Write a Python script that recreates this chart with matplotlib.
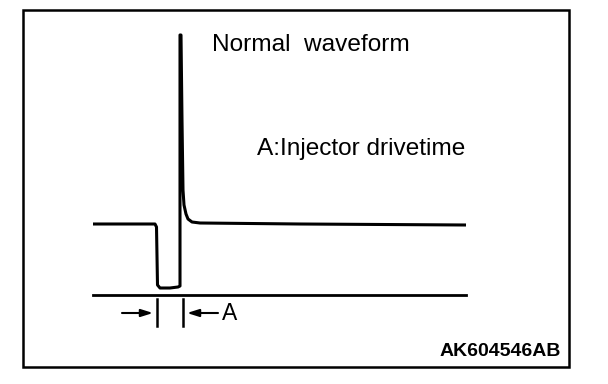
import matplotlib
matplotlib.use("Agg")
import matplotlib.pyplot as plt
from matplotlib.patches import Rectangle

# Waveform (diagram units = pixels, y downward)
wave_t = [93, 155, 156.5, 157.5, 160, 170, 178, 180, 180, 181, 182, 183, 184, 186, 188, 192, 200, 300, 466]
wave_v = [224, 224, 227, 285, 288, 288, 287, 286, 35, 35, 120, 190, 205, 214, 219, 222, 223, 224, 225]

base_t = [93, 466]
base_v = [295, 295]

title_text = "Normal  waveform"
label_text = "A:Injector drivetime"
marker_text = "A"
code_text = "AK604546AB"

fig = plt.figure(figsize=(6.08, 3.84), dpi=100)
ax = fig.add_axes([0, 0, 1, 1])
ax.set_xlim(0, 608)
ax.set_ylim(384, 0)
ax.axis("off")

fam = ["Liberation Sans", "DejaVu Sans"]

# frame
ax.add_patch(Rectangle((23, 10), 546, 357, fill=False, lw=1.8, ec="black"))

ax.plot(wave_t, wave_v, color="black", lw=2.2, solid_joinstyle="round", solid_capstyle="butt")
ax.plot(base_t, base_v, color="black", lw=2.0)

# dimension ticks
for xt in (157, 183):
    ax.plot([xt, xt], [299, 326], color="black", lw=1.8)

ap = dict(arrowstyle="-|>,head_length=0.7,head_width=0.22", color="black", lw=1.5,
          shrinkA=0, shrinkB=0)
ax.annotate("", xy=(153, 313), xytext=(122, 313), arrowprops=ap)
ax.annotate("", xy=(187, 313), xytext=(218, 313), arrowprops=ap)

ax.text(222, 314, marker_text, fontsize=16.5, family=fam, va="center", ha="left")
ax.text(212, 45, title_text, fontsize=17.6, family=fam, va="center", ha="left")
ax.text(257, 149, label_text, fontsize=17.6, family=fam, va="center", ha="left")
ax.text(561, 352, code_text, fontsize=14, family=fam, weight="bold", va="center", ha="right")

fig.savefig("out.png", dpi=100)
